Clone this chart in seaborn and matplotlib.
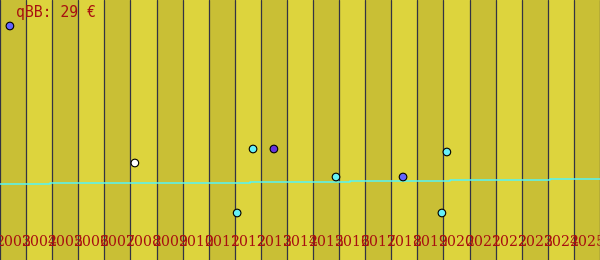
import matplotlib
matplotlib.use("Agg")
import matplotlib.pyplot as plt
import matplotlib.transforms as mtransforms
import seaborn as sns
import pandas as pd

# ---- data ----
years = list(range(2003, 2026))
year_labels = [str(y) for y in years]

point_year = [2002.88, 2007.67, 2012.2, 2013.0, 2011.59, 2015.38, 2017.95, 2019.63, 2019.44]
point_price = [46.8, 19.4, 22.2, 22.2, 9.4, 16.6, 16.6, 21.6, 9.4]
point_kind = ["blue", "white", "cyan", "purple", "cyan", "cyan", "blue", "cyan", "cyan"]

step_year = [2002.5, 2006.33, 2010.17, 2014.0, 2017.83, 2021.67, 2025.5]
step_price = [15.2, 15.36, 15.5, 15.7, 15.86, 16.06, 16.26]

title_text = "qBB: 29 €"

# ---- styling ----
sns.set_style("white")
band_dark = "#c9bf35"
band_light = "#ddd43d"
grid_col = "#333344"
text_col = "#a81010"
palette = {"blue": "#6464ff", "white": "#ffffff", "cyan": "#66f0f8", "purple": "#6633dd"}

fig = plt.figure(figsize=(6, 2.6), dpi=100)
ax = fig.add_axes([0, 0, 1, 1])

for i, y in enumerate(years):
    ax.axvspan(y - 0.5, y + 0.5, color=band_dark if i % 2 == 0 else band_light, lw=0, zorder=0)
for i in range(len(years) + 1):
    ax.axvline(years[0] - 0.5 + i, color=grid_col, lw=0.9, zorder=1)

df_step = pd.DataFrame({"year": step_year, "price": step_price})
sns.lineplot(data=df_step, x="year", y="price", ax=ax, color="#55f5f5", lw=1.1,
             drawstyle="steps-mid", zorder=2, legend=False)

df_pts = pd.DataFrame({"year": point_year, "price": point_price, "kind": point_kind})
sns.scatterplot(data=df_pts, x="year", y="price", hue="kind", palette=palette, ax=ax,
                s=30, edgecolor="black", linewidth=0.8, zorder=3, legend=False)

trans = mtransforms.blended_transform_factory(ax.transData, ax.transAxes)
for y, lab in zip(years, year_labels):
    ax.text(y, 0.054, lab, transform=trans, ha="center", va="baseline",
            fontsize=10.2, family="DejaVu Serif", color=text_col, zorder=4)

ax.text(0.027, 0.933, title_text, transform=ax.transAxes, ha="left", va="baseline",
        fontsize=10.6, family="DejaVu Sans Mono", color=text_col, zorder=4)

ax.set_xlim(years[0] - 0.5, years[-1] + 0.5)
ax.set_ylim(0, 52)
ax.set_xlabel("")
ax.set_ylabel("")
ax.set_xticks([])
ax.set_yticks([])
for s in ax.spines.values():
    s.set_visible(False)

fig.savefig("out.png", dpi=100)
